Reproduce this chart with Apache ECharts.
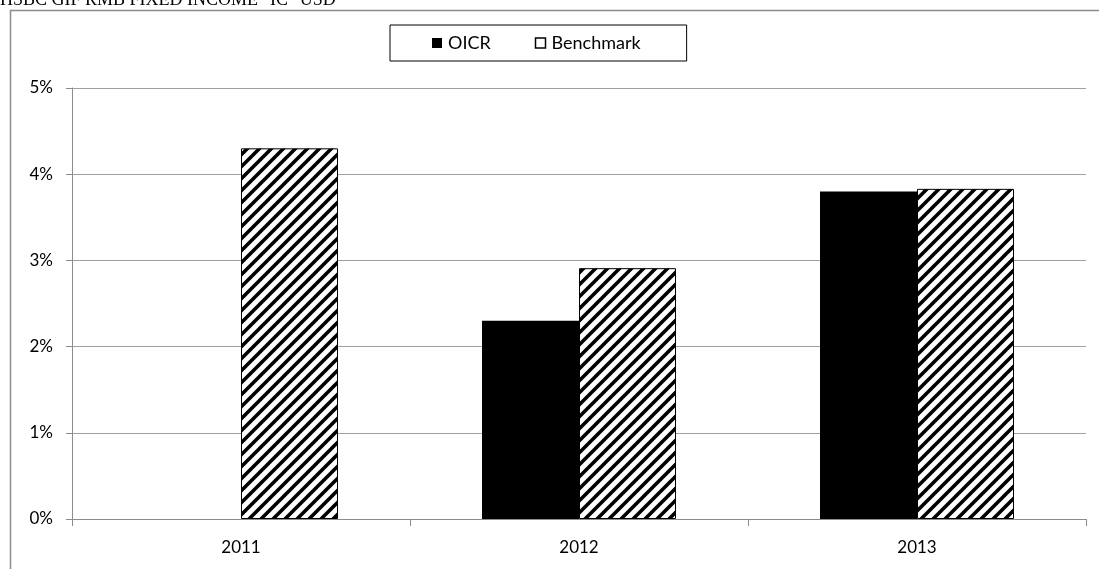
<!DOCTYPE html>
<html>
<head>
<meta charset="utf-8">
<script src="https://cdn.jsdelivr.net/npm/echarts@6/dist/echarts.min.js"></script>
<style>
  html, body { margin: 0; padding: 0; background: #fff; }
  #main { width: 1099px; height: 569px; }
</style>
</head>
<body>
<div id="main"></div>
<script>
// data (values in %)
var years = ['2011', '2012', '2013'];
var oicr = [null, 2.3, 3.8];
var benchmark = [4.3, 2.91, 3.83];
var yTicks = [0, 1, 2, 3, 4, 5];

// diagonal hatch pattern for the benchmark bars
function makeHatch() {
    var size = 12;
    var c = document.createElement('canvas');
    c.width = size;
    c.height = size;
    var ctx = c.getContext('2d');
    ctx.fillStyle = '#fff';
    ctx.fillRect(0, 0, size, size);
    ctx.strokeStyle = '#000';
    ctx.lineWidth = 3.6;
    ctx.beginPath();
    for (var k = -1; k <= 1; k++) {
        ctx.moveTo(k * size - 2, size + 2);
        ctx.lineTo(k * size + size + 2, -2);
    }
    ctx.stroke();
    return c;
}

var myChart = echarts.init(document.getElementById('main'));

var font = 'Lato, "Noto Sans", sans-serif';

option = {
    backgroundColor: '#fff',
    animation: false,
    graphic: [
        {
            type: 'rect',
            shape: { x: 10.5, y: 10.5, width: 1200, height: 700 },
            style: { fill: 'none', stroke: '#8c8c8c', lineWidth: 1.5 },
            silent: true
        },
        {
            type: 'text',
            left: 0,
            top: -9,
            style: {
                text: 'HSBC GIF RMB FIXED INCOME "IC" USD',
                font: '18px "Liberation Serif", "Times New Roman", serif',
                fill: '#000'
            }
        }
    ],
    legend: {
        left: 390,
        top: 25,
        padding: [9, 46, 9, 42],
        itemGap: 44,
        itemWidth: 10,
        itemHeight: 10,
        borderColor: '#000',
        borderWidth: 1,
        textStyle: { fontFamily: font, fontSize: 18, color: '#000', padding: [0, 0, 0, 1] },
        data: [
            { name: 'OICR', icon: 'rect', itemStyle: { color: '#000' } },
            { name: 'Benchmark', icon: 'rect', itemStyle: { color: '#fff', borderColor: '#000', borderWidth: 1.5 } }
        ]
    },
    grid: {
        left: 72,
        right: 13,
        top: 88,
        bottom: 50
    },
    xAxis: {
        type: 'category',
        data: years,
        axisLine: { lineStyle: { color: '#8c8c8c', width: 1 } },
        axisTick: { show: true, length: 7, lineStyle: { color: '#8c8c8c' } },
        axisLabel: { fontFamily: font, fontSize: 17, color: '#000', margin: 20 }
    },
    yAxis: {
        type: 'value',
        min: yTicks[0],
        max: yTicks[yTicks.length - 1],
        interval: 1,
        axisLine: { show: true, lineStyle: { color: '#8c8c8c', width: 1 } },
        axisTick: { show: true, length: 6, lineStyle: { color: '#8c8c8c' } },
        splitLine: { lineStyle: { color: '#a0a0a0', width: 1 } },
        axisLabel: {
            fontFamily: font, fontSize: 17, color: '#000', margin: 19,
            formatter: '{value}%'
        }
    },
    series: [
        {
            name: 'OICR',
            type: 'bar',
            data: oicr,
            barWidth: 97,
            barGap: 0,
            itemStyle: { color: '#000' }
        },
        {
            name: 'Benchmark',
            type: 'bar',
            data: benchmark,
            barWidth: 97,
            itemStyle: {
                color: { image: makeHatch(), repeat: 'repeat' },
                borderColor: '#000',
                borderWidth: 1
            }
        }
    ]
};

myChart.setOption(option);
</script>
</body>
</html>
